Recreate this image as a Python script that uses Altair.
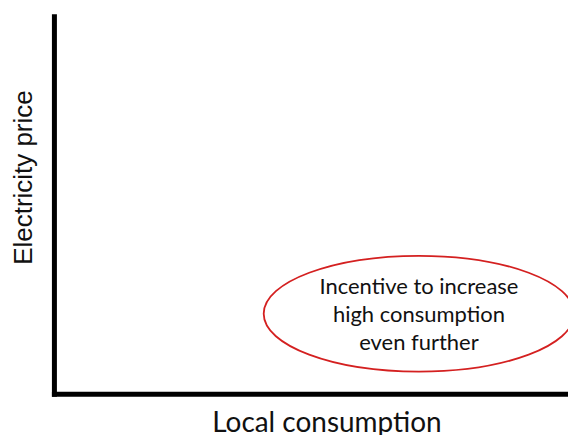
import altair as alt
import pandas as pd

# Text content of the schematic
x_axis_title = "Local consumption"
y_axis_title = "Electricity price"
note_lines = ["Incentive to increase", "high consumption", "even further"]

# Location of the highlighted region (in axis units, 0..10)
note_consumption = [7.1]
note_price = [2.12]

df = pd.DataFrame({"consumption": note_consumption, "price": note_price})

ellipse_path = "M -1 0 A 1 0.373 0 1 1 1 0 A 1 0.373 0 1 1 -1 0 Z"

x_enc = alt.X(
    "consumption:Q",
    scale=alt.Scale(domain=[0, 10], nice=False, zero=False),
    axis=alt.Axis(
        title=x_axis_title,
        titleFont="Lato",
        titleFontSize=28,
        titleFontWeight="normal",
        titleColor="#111111",
        titleAlign="center",
        titleBaseline="alphabetic",
        titleX=273,
        titleY=38,
    ),
)
y_enc = alt.Y(
    "price:Q",
    scale=alt.Scale(domain=[0, 10], nice=False, zero=False),
    axis=alt.Axis(
        title=y_axis_title,
        titleFont="Liberation Sans",
        titleFontSize=26,
        titleFontWeight="normal",
        titleColor="#111111",
        titleAngle=270,
        titleAlign="center",
        titleBaseline="alphabetic",
        titleX=-22,
        titleY=161,
    ),
)

base = alt.Chart(df).encode(x=x_enc, y=y_enc)

ellipse = base.mark_point(
    shape=ellipse_path,
    size=96721,
    filled=False,
    stroke="#d42020",
    strokeWidth=1.8,
    opacity=1,
)

note = base.mark_text(
    font="Lato",
    fontSize=22,
    color="#111111",
    align="center",
    baseline="middle",
    lineHeight=28,
    dy=-27,
).encode(text=alt.value(note_lines))

chart = (
    alt.layer(ellipse, note)
    .properties(
        width=515,
        height=378,
        autosize=alt.AutoSizeParams(type="none"),
        padding={"left": 46, "top": 8, "right": 0, "bottom": 41},
        background="white",
    )
    .configure_axis(
        domainColor="black",
        domainWidth=5,
        domainCap="square",
        ticks=False,
        labels=False,
        grid=False,
    )
    .configure_view(strokeWidth=0)
)

chart.save("out.html", embed_options={"renderer": "svg", "actions": False})
